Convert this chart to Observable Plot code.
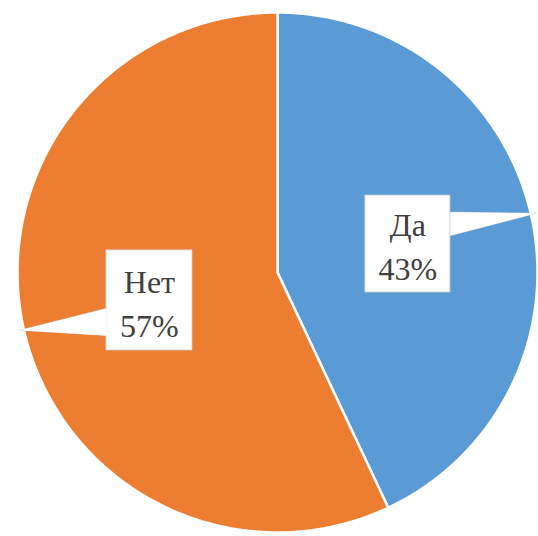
<!DOCTYPE html>
<html><head><meta charset="utf-8">
<script src="https://cdn.jsdelivr.net/npm/d3@7"></script>
<script src="https://cdn.jsdelivr.net/npm/@observablehq/plot@0.6"></script>
<style>html,body{margin:0;padding:0;background:#fff}</style>
</head><body><div id="chart"></div>
<script>
const categories = ["Да", "Нет"];
const values = [43, 57];
const colors = ["#5B9BD5", "#ED7D31"];

// pie geometry from values
const pie = d3.pie().sort(null)(values);
const pts = [];
pie.forEach((p, i) => {
  const n = Math.max(8, Math.ceil((p.endAngle - p.startAngle) * 80));
  pts.push({cat: categories[i], x: 0, y: 0});
  for (let k = 0; k <= n; k++) {
    const a = p.startAngle + (p.endAngle - p.startAngle) * k / n;
    pts.push({cat: categories[i], x: Math.sin(a), y: Math.cos(a)});
  }
  pts.push({cat: categories[i], x: 0, y: 0});
});

// callout layout (in unit-circle coords)
const callouts = [
  {cat: "Да", box: [0.338, 0.665, -0.077, 0.296], tip: [0.995, 0.228], base: [0.665, 0.232, 0.665, 0.142]},
  {cat: "Нет", box: [-0.658, -0.327, -0.30, 0.085], tip: [-0.99, -0.222], base: [-0.658, -0.138, -0.658, -0.242]}
];
const pointers = callouts.flatMap(c => [
  {cat: c.cat, x: c.base[0], y: c.base[1]},
  {cat: c.cat, x: c.tip[0], y: c.tip[1]},
  {cat: c.cat, x: c.base[2], y: c.base[3]}
]);
const boxes = callouts.map(c => ({cat: c.cat, x1: c.box[0], x2: c.box[1], y1: c.box[2], y2: c.box[3]}));
const labels = callouts.map((c, i) => ({
  text: categories[i] + "\n" + values[i] + "%",
  x: (c.box[0] + c.box[1]) / 2,
  y: (c.box[2] + c.box[3]) / 2
}));

const serif = "Liberation Serif";
const chart = Plot.plot({
  width: 538, height: 536,
  marginLeft: 17, marginRight: 1, marginTop: 12, marginBottom: 4,
  x: {domain: [-1, 1], axis: null},
  y: {domain: [-1, 1], axis: null},
  color: {domain: categories, range: colors},
  marks: [
    Plot.line(pts, {x: "x", y: "y", z: "cat", fill: "cat", stroke: "white", strokeWidth: 2.5, curve: "linear"}),
    Plot.line(pointers, {x: "x", y: "y", z: "cat", fill: "white", stroke: "#d0d0d0", strokeWidth: 0.8, curve: "linear-closed"}),
    Plot.rect(boxes, {x1: "x1", x2: "x2", y1: "y1", y2: "y2", fill: "white", stroke: "#d0d0d0", strokeWidth: 0.8}),
    Plot.line(pointers, {x: "x", y: "y", z: "cat", fill: "white", stroke: "none", curve: "linear-closed"}),
    Plot.text(labels, {x: "x", y: "y", text: "text", fontSize: 32, lineHeight: 1.38, fill: "#404040",
      fontFamily: serif, textAnchor: "middle"})
  ]
});
document.getElementById("chart").appendChild(chart);
</script>
</body></html>
